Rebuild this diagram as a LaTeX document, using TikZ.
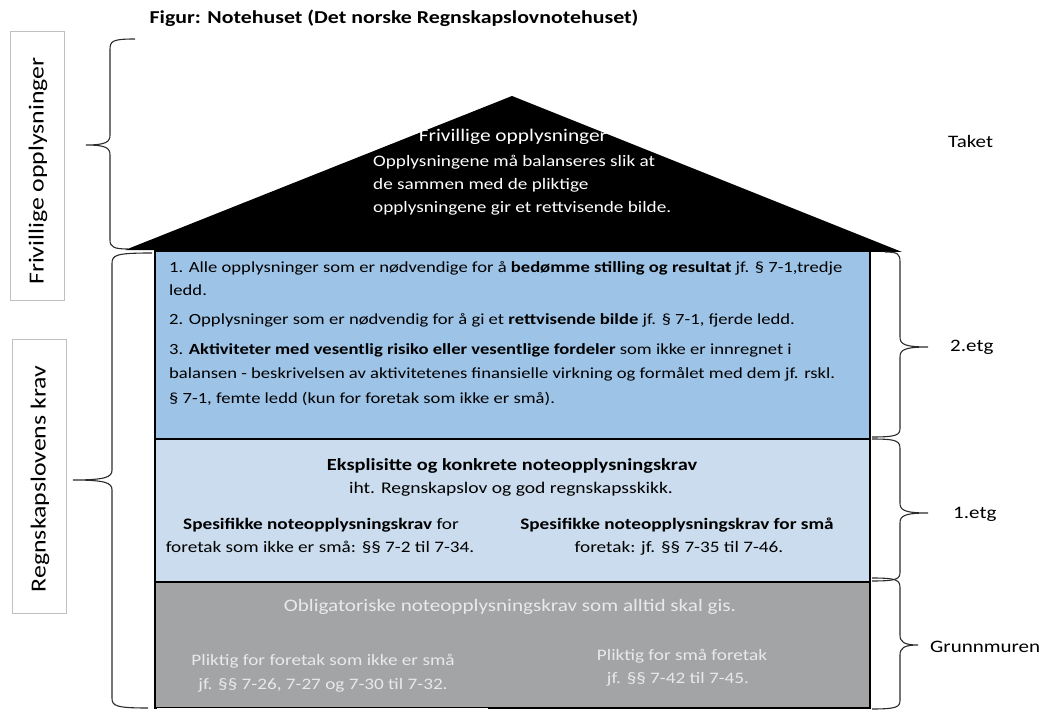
\documentclass[tikz,border=0pt]{standalone}
\usepackage{fontspec}
\setmainfont{Carlito}
\newcommand\hstr[1]{\scalebox{1.2}[1]{#1}}
\definecolor{blueA}{HTML}{9DC3E6}
\definecolor{blueB}{HTML}{CADCEE}
\definecolor{grayC}{HTML}{A2A4A5}
\definecolor{grayTxt}{HTML}{E9E9E9}
\definecolor{braceCol}{HTML}{2B2B2B}
\definecolor{sideBox}{HTML}{C0C0C0}
\begin{document}
\begin{tikzpicture}[x=1pt,y=-1pt,
  floor/.style={draw=black,line width=1.4pt},
  sidebox/.style={draw=sideBox,line width=0.9pt,fill=white},
  bracepath/.style={draw=braceCol,line width=1.1pt},
  sidetxt/.style={font=\fontsize{21.5}{25}\selectfont,rotate=90,inner sep=0pt},
  bluetxt/.style={anchor=base west,inner sep=0pt,font=\fontsize{15.5}{18}\selectfont},
  midtxt/.style={anchor=base,inner sep=0pt,font=\fontsize{16}{19}\selectfont},
  graytxt/.style={anchor=base,inner sep=0pt,text=grayTxt,font=\fontsize{16}{19}\selectfont},
  rooftxt/.style={anchor=base west,inner sep=0pt,text=white,font=\fontsize{16}{19}\selectfont},
  lbl/.style={anchor=base west,inner sep=0pt,font=\fontsize{17.5}{20}\selectfont}]
\useasboundingbox (0,0) rectangle (1050,711);

% title
\node[anchor=base,inner sep=0pt,font=\fontsize{18.2}{21}\selectfont\bfseries] (title) at (394,24) {\hstr{Figur: Notehuset (Det norske Regnskapslovnotehuset)}};

% side boxes
\draw[sidebox] (10,31) rectangle (64,300);
\node[sidetxt] (sideA) at (38,171) {\hstr{Frivillige opplysninger}};
\draw[sidebox] (12,339) rectangle (66,613);
\node[sidetxt] (sideB) at (40,479) {\hstr{Regnskapslovens krav}};

% roof
\fill[black] (125,250) -- (512,96) -- (902,252) -- cycle;
\node[anchor=base,inner sep=0pt,text=white,font=\fontsize{17.8}{21}\selectfont] (roofT) at (513,142) {\hstr{Frivillige opplysninger}};
\node[rooftxt] (roofA) at (373,167) {\hstr{Opplysningene må balanseres slik at}};
\node[rooftxt] (roofB) at (373,190) {\hstr{de sammen med de pliktige}};
\node[rooftxt] (roofC) at (373,213) {\hstr{opplysningene gir et rettvisende bilde.}};

% floors
\draw[floor,fill=blueA] (155,251) rectangle (870,439);
\draw[floor,fill=blueB] (155,439) rectangle (870,582);
\draw[floor,fill=grayC] (155,582) rectangle (870,708);
\draw[white,line width=1pt] (157,708) -- (488,708);

% 2.etg text
\node[bluetxt] (l1) at (169,273) {\hstr{1. Alle opplysninger som er nødvendige for å \textbf{bedømme stilling og resultat} jf. § 7-1,tredje}};
\node[bluetxt] (l2) at (169,296) {\hstr{ledd.}};
\node[bluetxt] (l3) at (169,325) {\hstr{2. Opplysninger som er nødvendig for å gi et \textbf{rettvisende bilde} jf. § 7-1, fjerde ledd.}};
\node[bluetxt] (l4) at (169,355) {\hstr{3. \textbf{Aktiviteter med vesentlig risiko eller vesentlige fordeler} som ikke er innregnet i}};
\node[bluetxt] (l5) at (169,379) {\hstr{balansen - beskrivelsen av aktivitetenes finansielle virkning og formålet med dem jf. rskl.}};
\node[bluetxt] (l6) at (169,403) {\hstr{§ 7-1, femte ledd (kun for foretak som ikke er små).}};

% 1.etg text
\node[anchor=base,inner sep=0pt,font=\fontsize{17}{20}\selectfont\bfseries] (e1) at (512,470) {\hstr{Eksplisitte og konkrete noteopplysningskrav}};
\node[anchor=base,inner sep=0pt,font=\fontsize{16.3}{19}\selectfont] (e2) at (511,493) {\hstr{iht. Regnskapslov og god regnskapsskikk.}};
\node[midtxt] (e3) at (321,529) {\hstr{\textbf{Spesifikke noteopplysningskrav} for}};
\node[midtxt] (e4) at (320,552) {\hstr{foretak som ikke er små: §§ 7-2 til 7-34.}};
\node[midtxt] (e5) at (677,529) {\hstr{\textbf{Spesifikke noteopplysningskrav for små}}};
\node[midtxt] (e6) at (679,552) {\hstr{foretak: jf. §§ 7-35 til 7-46.}};

% grunnmur text
\node[graytxt,font=\fontsize{17.6}{20}\selectfont] (g1) at (510,611) {\hstr{Obligatoriske noteopplysningskrav som alltid skal gis.}};
\node[graytxt] (g2) at (323,665) {\hstr{Pliktig for foretak som ikke er små}};
\node[graytxt] (g3) at (323,689) {\hstr{jf. §§ 7-26, 7-27 og 7-30 til 7-32.}};
\node[graytxt] (g4) at (682,660) {\hstr{Pliktig for små foretak}};
\node[graytxt] (g5) at (678,683) {\hstr{jf. §§ 7-42 til 7-45.}};

% left braces
\draw[bracepath] (135,39) .. controls (112,39) and (110,41) .. (110,50)
  -- (110,135) .. controls (110,142) and (106,145) .. (86,145)
  .. controls (106,145) and (110,148) .. (110,155)
  -- (110,240) .. controls (110,247) and (114,249) .. (128,249);
\draw[bracepath] (152,253) .. controls (115,253) and (112,255) .. (112,264)
  -- (112,470) .. controls (112,477) and (106,480) .. (73,480)
  .. controls (106,480) and (112,483) .. (112,490)
  -- (112,698) .. controls (112,706) and (116,708) .. (148,708);

% right braces
\draw[bracepath] (885,252) .. controls (898,252) and (900,254) .. (900,262)
  -- (900,337) .. controls (900,344) and (904,347) .. (928,347)
  .. controls (904,347) and (900,350) .. (900,357)
  -- (900,428) .. controls (900,435) and (897,437) .. (872,437);
\draw[bracepath] (872,439) .. controls (897,439) and (900,441) .. (900,449)
  -- (900,503) .. controls (900,510) and (904,513) .. (928,513)
  .. controls (904,513) and (900,516) .. (900,523)
  -- (900,572) .. controls (900,579) and (897,581) .. (872,581);
\draw[bracepath] (872,578) .. controls (897,578) and (900,580) .. (900,588)
  -- (900,635) .. controls (900,642) and (904,645) .. (918,645)
  .. controls (904,645) and (900,648) .. (900,655)
  -- (900,700) .. controls (900,707) and (897,709) .. (872,709);

% right labels
\node[lbl] (taket) at (948,148) {\hstr{Taket}};
\node[lbl] (etg2) at (950,352) {\hstr{2.etg}};
\node[lbl] (etg1) at (953,518) {\hstr{1.etg}};
\node[lbl] (grunn) at (930,652) {\hstr{Grunnmuren}};
\end{tikzpicture}
\end{document}
